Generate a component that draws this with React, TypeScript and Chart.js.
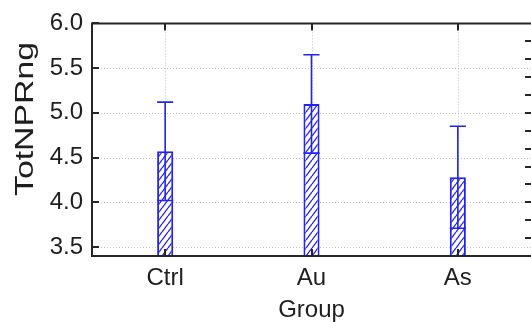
import { useEffect, useRef } from 'react';
import { Chart, registerables } from 'chart.js';

Chart.register(...registerables);

const categories = ['Ctrl', 'Au', 'As'];
const means = [4.57, 5.1, 4.28];
const sds = [0.55, 0.55, 0.57];
const yTicks = [3.5, 4.0, 4.5, 5.0, 5.5, 6.0];
const rightTicks = [3.6, 3.8, 4.0, 4.2, 4.4, 4.6, 4.8, 5.0, 5.2, 5.4, 5.6, 5.8];
const yMin = 3.4;
const yMax = 6.0;
const xTitle = 'Group';
const yTitle = 'TotNPRng';

const BLUE = '#2323ee';
const FRAME = '#262626';
const FONT_FAMILY = '"Liberation Sans", Arial, Helvetica, sans-serif';

function makeHatch(color: string): CanvasPattern | string {
  const c = document.createElement('canvas');
  c.width = 6;
  c.height = 8;
  const g = c.getContext('2d');
  if (!g) return color;
  g.fillStyle = '#ffffff';
  g.fillRect(0, 0, 6, 8);
  g.strokeStyle = color;
  g.lineWidth = 1.3;
  g.beginPath();
  for (const dx of [-6, 0, 6]) {
    g.moveTo(dx, 8);
    g.lineTo(dx + 6, 0);
  }
  g.stroke();
  return g.createPattern(c, 'repeat') || color;
}

const matlabAxes = {
  id: 'matlabAxes',
  beforeDatasetsDraw(chart: any) {
    const { ctx, chartArea: a, scales } = chart;
    const x = scales.x;
    const y = scales.y;
    ctx.save();
    ctx.strokeStyle = '#c2c2c2';
    ctx.lineWidth = 1;
    ctx.setLineDash([1, 2]);
    ctx.beginPath();
    yTicks.forEach((v) => {
      if (v >= yMax || v <= yMin) return;
      const py = Math.round(y.getPixelForValue(v)) + 0.5;
      ctx.moveTo(a.left, py);
      ctx.lineTo(a.right, py);
    });
    categories.forEach((_c, i) => {
      const px = Math.round(x.getPixelForValue(i)) + 0.5;
      ctx.moveTo(px, a.top);
      ctx.lineTo(px, a.bottom);
    });
    ctx.stroke();
    ctx.restore();
  },
  afterDatasetsDraw(chart: any) {
    const { ctx, chartArea: a, scales } = chart;
    const x = scales.x;
    const y = scales.y;
    const meta = chart.getDatasetMeta(0);
    ctx.save();
    // error bars
    ctx.strokeStyle = BLUE;
    ctx.lineWidth = 1.6;
    meta.data.forEach((bar: any, i: number) => {
      const top = y.getPixelForValue(means[i] + sds[i]);
      const bot = y.getPixelForValue(means[i] - sds[i]);
      const half = bar.width / 2;
      const cx = bar.x;
      ctx.beginPath();
      ctx.moveTo(cx, bot);
      ctx.lineTo(cx, top);
      ctx.moveTo(cx - half, top);
      ctx.lineTo(cx + half, top);
      ctx.moveTo(cx - half, bot);
      ctx.lineTo(cx + half, bot);
      ctx.stroke();
    });
    // ticks
    ctx.strokeStyle = FRAME;
    ctx.lineWidth = 2;
    ctx.beginPath();
    yTicks.forEach((v) => {
      const py = Math.round(y.getPixelForValue(v));
      ctx.moveTo(a.left, py);
      ctx.lineTo(a.left + 7, py);
    });
    rightTicks.forEach((v) => {
      const py = Math.round(y.getPixelForValue(v));
      ctx.moveTo(a.right - 6, py);
      ctx.lineTo(a.right, py);
    });
    categories.forEach((_c, i) => {
      const px = Math.round(x.getPixelForValue(i));
      ctx.moveTo(px, a.top);
      ctx.lineTo(px, a.top + 7);
      ctx.moveTo(px, a.bottom);
      ctx.lineTo(px, a.bottom - 7);
    });
    ctx.stroke();
    // frame
    ctx.beginPath();
    ctx.moveTo(a.right + 2, a.top);
    ctx.lineTo(a.left, a.top);
    ctx.lineTo(a.left, a.bottom);
    ctx.lineTo(a.right + 2, a.bottom);
    ctx.stroke();
    ctx.restore();
  },
  afterDraw(chart: any) {
    const { ctx, chartArea: a } = chart;
    ctx.save();
    ctx.fillStyle = '#1e1e1e';
    ctx.font = `24px ${FONT_FAMILY}`;
    ctx.textAlign = 'center';
    ctx.textBaseline = 'alphabetic';
    ctx.fillText(xTitle, (a.left + a.right) / 2, a.bottom + 61);
    ctx.translate(33, 119);
    ctx.rotate(-Math.PI / 2);
    ctx.scale(1.3, 1);
    ctx.font = `26px ${FONT_FAMILY}`;
    ctx.fillText(yTitle, 0, 0);
    ctx.restore();
  },
};

export default function App() {
  const canvasRef = useRef<HTMLCanvasElement | null>(null);

  useEffect(() => {
    const canvas = canvasRef.current;
    if (!canvas) return;
    const pattern = makeHatch(BLUE);
    const font = { family: FONT_FAMILY, size: 24 };
    const chart = new Chart(canvas, {
      type: 'bar',
      data: {
        labels: categories,
        datasets: [
          {
            data: means,
            backgroundColor: pattern as any,
            borderColor: BLUE,
            borderWidth: 2,
            base: yMin,
            barPercentage: 0.11,
            categoryPercentage: 1,
          } as any,
        ],
      },
      options: {
        responsive: false,
        animation: false,
        layout: { padding: { top: 16, left: 0, right: 0, bottom: 0 } },
        plugins: {
          legend: { display: false },
          tooltip: { enabled: false },
        },
        scales: {
          x: {
            offset: true,
            grid: { display: false, drawTicks: false },
            border: { display: false },
            ticks: {
              font,
              color: '#1e1e1e',
              padding: 8,
              maxRotation: 0,
              autoSkip: false,
            },
            afterFit: (s: any) => {
              s.height = 66;
            },
          },
          y: {
            min: yMin,
            max: yMax,
            grid: { display: false, drawTicks: false },
            border: { display: false },
            afterBuildTicks: (s: any) => {
              s.ticks = yTicks.map((v) => ({ value: v }));
            },
            ticks: {
              font,
              color: '#1e1e1e',
              padding: 9,
              callback: (v: any) => Number(v).toFixed(1),
            },
            afterFit: (s: any) => {
              s.width = 92;
            },
          },
        },
      },
      plugins: [matlabAxes],
    });
    return () => chart.destroy();
  }, []);

  return (
    <div style={{ position: 'fixed', left: 0, top: 0, width: 531, height: 322, background: '#fff' }}>
      <canvas ref={canvasRef} width={531} height={322} style={{ display: 'block' }} />
    </div>
  );
}
